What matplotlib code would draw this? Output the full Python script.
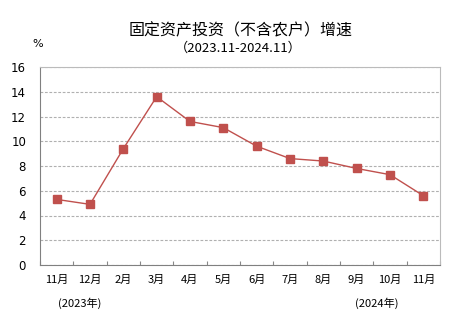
import numpy as np
import matplotlib.pyplot as plt

plt.rcParams['font.family'] = ['Noto Sans CJK SC', 'DejaVu Sans']

# 数据
months = ['11月', '12月', '2月', '3月', '4月', '5月', '6月', '7月', '8月', '9月', '10月', '11月']
growth = [5.3, 4.9, 9.4, 13.6, 11.6, 11.1, 9.6, 8.6, 8.4, 7.8, 7.3, 5.6]
yticks = [0, 2, 4, 6, 8, 10, 12, 14, 16]

fig = plt.figure(figsize=(4.56, 3.25), dpi=100)
ax = fig.add_axes([40 / 456, 60 / 325, 400 / 456, 198 / 325])

x = np.arange(len(months))
ax.plot(x, growth, color='#C0504D', lw=1.0, marker='s', markersize=5.5,
        markerfacecolor='#C0504D', markeredgecolor='#C0504D', zorder=3)

ax.set_xlim(-0.5, len(months) - 0.5)
ax.set_ylim(0, 16)
ax.set_yticks(yticks)
ax.set_yticklabels([str(v) for v in yticks], fontsize=8.5, family='DejaVu Sans')
ax.tick_params(axis='y', length=0, pad=10)
ax.yaxis.grid(True, linestyle=(0, (2.5, 1.5)), color='#B0B0B0', lw=0.8)
ax.set_axisbelow(True)

# x 轴刻度在类别边界
ax.set_xticks(np.arange(len(months) + 1) - 0.5, minor=False)
ax.set_xticklabels([])
ax.tick_params(axis='x', direction='in', length=3, color='#888888')
for i, m in enumerate(months):
    ax.text(i, -1.2, m, ha='center', va='center', fontsize=8)

ax.text(0.7, -3.1, '(2023年)', ha='center', va='center', fontsize=8)
ax.text(9.6, -3.1, '(2024年)', ha='center', va='center', fontsize=8)

for s in ['left', 'bottom']:
    ax.spines[s].set_color('#808080')
for s in ['top', 'right']:
    ax.spines[s].set_color('#BBBBBB')

fig.text(241 / 456, 1 - 31 / 325, '固定资产投资（不含农户）增速', ha='center', va='center', fontsize=11.5)
fig.text(238 / 456, 1 - 48 / 325, '（2023.11-2024.11）', ha='center', va='center', fontsize=9.5)
fig.text(38 / 456, 1 - 44 / 325, '%', ha='center', va='center', fontsize=8, family='DejaVu Sans')

fig.savefig('out.png', dpi=100)
